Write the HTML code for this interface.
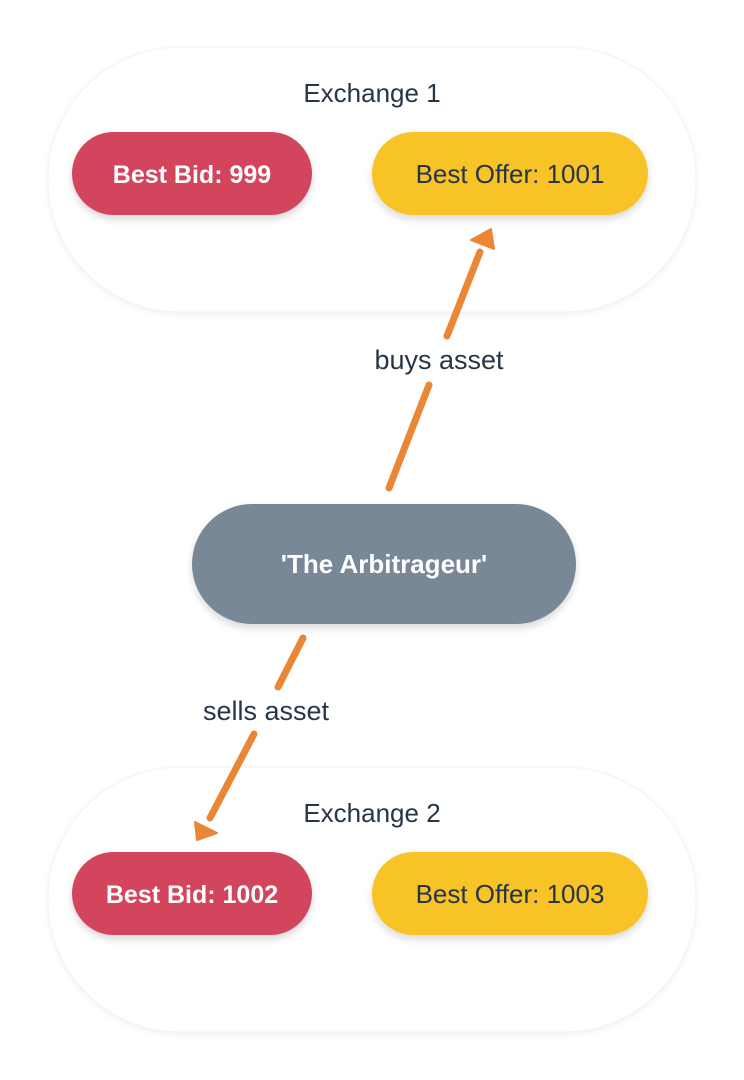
<!DOCTYPE html>
<html><head><meta charset="utf-8"><style>
html,body{margin:0;padding:0;background:#fff;}
svg{display:block;}
text{font-family:"Liberation Sans",sans-serif;}
</style></head><body>
<svg width="744" height="1080" viewBox="0 0 744 1080" xmlns="http://www.w3.org/2000/svg">
<defs>
<filter id="sh" x="-20%" y="-20%" width="140%" height="160%"><feDropShadow dx="0" dy="4" stdDeviation="4" flood-color="#000" flood-opacity="0.15"/></filter>
<filter id="sh2" x="-10%" y="-10%" width="120%" height="130%"><feDropShadow dx="0" dy="2" stdDeviation="3" flood-color="#000" flood-opacity="0.06"/></filter>
</defs>
<rect x="48" y="47" width="648" height="265" rx="132" fill="#fff" filter="url(#sh2)" stroke="#f3f3f3" stroke-width="1"/>
<rect x="48" y="767" width="648" height="265" rx="132" fill="#fff" filter="url(#sh2)" stroke="#f3f3f3" stroke-width="1"/>
<text x="372" y="102" font-size="26" fill="#273646" text-anchor="middle">Exchange 1</text>
<text x="372" y="822" font-size="26" fill="#273646" text-anchor="middle">Exchange 2</text>
<rect x="72" y="132" width="240" height="83" rx="41.5" fill="#d3455b" filter="url(#sh)"/>
<rect x="372" y="132" width="276" height="83" rx="41.5" fill="#f7c325" filter="url(#sh)"/>
<rect x="72" y="852" width="240" height="83" rx="41.5" fill="#d3455b" filter="url(#sh)"/>
<rect x="372" y="852" width="276" height="83" rx="41.5" fill="#f7c325" filter="url(#sh)"/>
<text x="192" y="183" font-size="25" fill="#fff" text-anchor="middle" font-weight="bold">Best Bid: 999</text>
<text x="510" y="183" font-size="26" fill="#273646" text-anchor="middle">Best Offer: 1001</text>
<text x="192" y="903" font-size="25" fill="#fff" text-anchor="middle" font-weight="bold">Best Bid: 1002</text>
<text x="510" y="903" font-size="26" fill="#273646" text-anchor="middle">Best Offer: 1003</text>
<rect x="192" y="504" width="384" height="120" rx="60" fill="#798897" filter="url(#sh)"/>
<text x="384" y="573" font-size="26" fill="#fff" text-anchor="middle" font-weight="bold">'The Arbitrageur'</text>
<g stroke="#ea8737" stroke-width="7" stroke-linecap="round" fill="none">
<line x1="389" y1="488" x2="429" y2="385"/>
<line x1="447" y1="336" x2="480" y2="252"/>
<line x1="303" y1="638" x2="278" y2="687"/>
<line x1="254" y1="734" x2="210" y2="818"/>
</g>
<polygon points="491,229 494,249 471,240" fill="#ea8737" stroke="#ea8737" stroke-width="2" stroke-linejoin="round"/>
<polygon points="197,840 195,822 217,833" fill="#ea8737" stroke="#ea8737" stroke-width="2" stroke-linejoin="round"/>
<text x="439" y="369" font-size="27" fill="#273646" text-anchor="middle">buys asset</text>
<text x="266" y="720" font-size="27" fill="#273646" text-anchor="middle">sells asset</text>
</svg>
</body></html>
